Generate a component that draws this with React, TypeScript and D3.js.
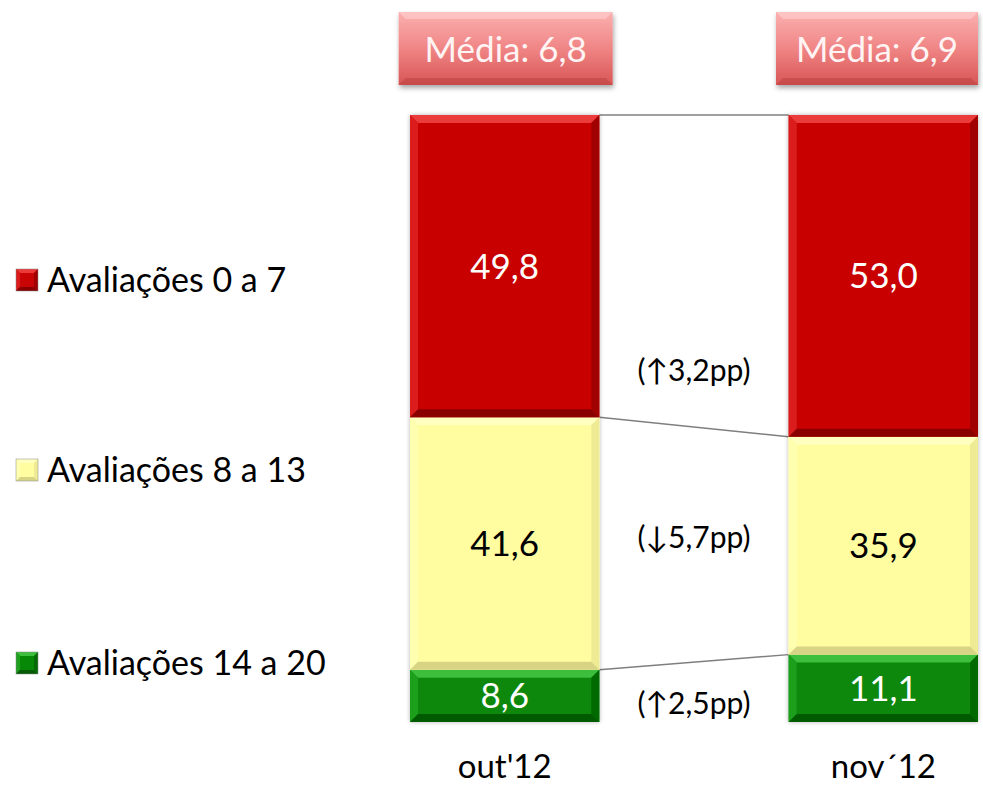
import React from "react";
import * as d3 from "d3";

const categories = ["out'12", "nov´12"];
const seriesNames = ["Avaliações 0 a 7", "Avaliações 8 a 13", "Avaliações 14 a 20"];
const lowValues = [49.8, 53.0];
const midValues = [41.6, 35.9];
const highValues = [8.6, 11.1];
const averages = ["Média: 6,8", "Média: 6,9"];
const changes = ["(↑3,2pp)", "(↓5,7pp)", "(↑2,5pp)"];

const W = 983;
const H = 785;
const FONT = "Lato, 'Open Sans', sans-serif";

const palettes = [
  { base: "#C80404", top: "#EC3A3A", left: "#DA1C1C", right: "#A00000", bottom: "#8A0000", text: "#FFFFFF" },
  { base: "#FFFDA0", top: "#FFFFC0", left: "#FFFFB0", right: "#EEEB94", bottom: "#D8D486", text: "#000000" },
  { base: "#078807", top: "#3DBE3D", left: "#1FA01F", right: "#066A06", bottom: "#055A05", text: "#FFFFFF" },
];

function Bevel({ x0, y0, x1, y1, p, bmax = 8 }: any) {
  const h = y1 - y0;
  const b = Math.min(bmax, h / 4);
  return (
    <g>
      <rect x={x0} y={y0} width={x1 - x0} height={h} fill={p.base} />
      <polygon points={`${x0},${y0} ${x1},${y0} ${x1 - b},${y0 + b} ${x0 + b},${y0 + b}`} fill={p.top} />
      <polygon points={`${x0},${y0} ${x0 + b},${y0 + b} ${x0 + b},${y1 - b} ${x0},${y1}`} fill={p.left} />
      <polygon points={`${x1},${y0} ${x1},${y1} ${x1 - b},${y1 - b} ${x1 - b},${y0 + b}`} fill={p.right} />
      <polygon points={`${x0},${y1} ${x1},${y1} ${x1 - b},${y1 - b} ${x0 + b},${y1 - b}`} fill={p.bottom} />
    </g>
  );
}

export default function App() {
  const rows = categories.map((c, i) => ({ cat: c, a: lowValues[i], b: midValues[i], c: highValues[i] }));
  const stack = d3.stack<any>().keys(["c", "b", "a"]);
  const layers = stack(rows);
  const x = d3.scaleBand().domain(categories).range([410, 978]).paddingInner(0.5).paddingOuter(0);
  const y = d3.scaleLinear().domain([0, 100]).range([722, 115]);
  const bw = x.bandwidth();
  const palIdx = [2, 1, 0];

  const x0a = x(categories[0])! + bw;
  const x0b = x(categories[1])!;
  const connectorYs = [
    [y(100), y(100)],
    [y(highValues[0] + midValues[0]), y(highValues[1] + midValues[1])],
    [y(highValues[0]), y(highValues[1])],
  ];
  const midX = (x0a + x0b) / 2;
  const changeY = [370, 537, 703];
  const legendY = [280, 470, 663];

  return (
    <svg width={W} height={H} style={{ position: "absolute", left: 0, top: 0, background: "#fff" }}>
      <defs>
        <linearGradient id="boxg" x1="0" y1="0" x2="0" y2="1">
          <stop offset="0" stopColor="#FBB0B0" />
          <stop offset="0.5" stopColor="#F08585" />
          <stop offset="1" stopColor="#D95555" />
        </linearGradient>
        <filter id="sh" x="-10%" y="-10%" width="130%" height="140%">
          <feDropShadow dx="1" dy="3" stdDeviation="2.5" floodColor="#000" floodOpacity="0.35" />
        </filter>
        <filter id="sh2" x="-10%" y="-5%" width="120%" height="110%">
          <feDropShadow dx="0" dy="0" stdDeviation="2" floodColor="#000" floodOpacity="0.3" />
        </filter>
      </defs>

      {connectorYs.map((c, i) => (
        <line key={i} x1={x0a} y1={c[0]} x2={x0b} y2={c[1]} stroke="#7F7F7F" strokeWidth={1.5} />
      ))}

      <g filter="url(#sh2)">
        {layers.map((layer, li) =>
          layer.map((d: any, i: number) => (
            <Bevel key={li + "-" + i} x0={x(categories[i])!} x1={x(categories[i])! + bw} y0={y(d[1])} y1={y(d[0])} p={palettes[palIdx[li]]} />
          ))
        )}
      </g>
      {layers.map((layer, li) =>
        layer.map((d: any, i: number) => (
          <text
            key={"t" + li + "-" + i}
            x={x(categories[i])! + bw / 2}
            y={(y(d[1]) + y(d[0])) / 2}
            dy="0.36em"
            textAnchor="middle"
            fontFamily={FONT}
            fontSize={35}
            fill={palettes[palIdx[li]].text}
          >
            {(d[1] - d[0]).toFixed(1).replace(".", ",")}
          </text>
        ))
      )}

      {averages.map((t, i) => {
        const cx = x(categories[i])! + bw / 2;
        const bxs = i === 1 ? 776 : cx - 106;
        const bx1 = i === 1 ? 978 : cx + 108;
        return (
          <g key={t}>
            <g filter="url(#sh)">
              <rect x={bxs} y={12} width={bx1 - bxs} height={73} fill="url(#boxg)" />
            </g>
            <polygon points={`${bxs},12 ${bx1},12 ${bx1 - 7},19 ${bxs + 7},19`} fill="#FFD0D0" opacity={0.6} />
            <polygon points={`${bxs},85 ${bx1},85 ${bx1 - 7},78 ${bxs + 7},78`} fill="#B84040" opacity={0.5} />
            <text x={(bxs + bx1) / 2} y={49} dy="0.36em" textAnchor="middle" fontFamily={FONT} fontSize={35} fill="#FFF4F4">
              {t}
            </text>
          </g>
        );
      })}

      {changes.map((t, i) => (
        <text key={t} x={midX} y={changeY[i]} dy="0.36em" textAnchor="middle" fontFamily={FONT} fontSize={30} fill="#000">
          {t}
        </text>
      ))}

      {categories.map((c) => (
        <text key={c} x={x(c)! + bw / 2} y={766} dy="0.36em" textAnchor="middle" fontFamily={FONT} fontSize={33} fill="#000">
          {c}
        </text>
      ))}

      {seriesNames.map((s, i) => (
        <g key={s}>
          <Bevel x0={16} x1={38} y0={legendY[i] - 11} y1={legendY[i] + 11} p={palettes[i]} bmax={4} />
          <rect x={16} y={legendY[i] - 11} width={22} height={22} fill="none" stroke="#888" strokeWidth={0.5} />
          <text x={47} y={legendY[i]} dy="0.36em" fontFamily={FONT} fontSize={34} fill="#000">
            {s}
          </text>
        </g>
      ))}
    </svg>
  );
}
